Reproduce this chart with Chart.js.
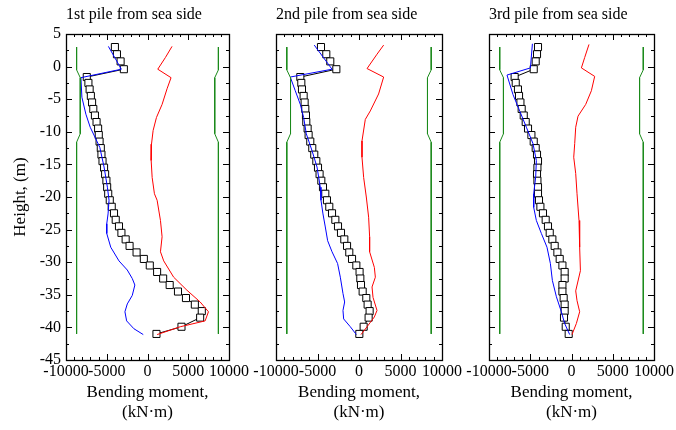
<!DOCTYPE html>
<html lang="en">
<head>
<meta charset="UTF-8">
<title>Bending moment along piles</title>
<script src="https://cdn.jsdelivr.net/npm/chart.js@4"></script>
<style>
  body { margin: 0; background: #fff; }
  #wrap { position: relative; width: 676px; height: 430px; overflow: hidden; }
  canvas { position: absolute; top: 0; }
</style>
</head>
<body>
<div id="wrap">
  <canvas id="pile1" width="262" height="430" style="left:0"></canvas>
  <canvas id="pile2" width="230" height="430" style="left:240px"></canvas>
  <canvas id="pile3" width="221" height="430" style="left:455px"></canvas>
</div>
<script>
// depths (m) of the recorded points, shared by all three piles
const recordDepth = [3, 1.9, 0.8, -0.4, -1.6, -2.5, -3.5, -4.5, -5.5, -6.5, -7.5, -8.5, -9.5, -10.5,
  -11.5, -12.5, -13.5, -14.5, -15.5, -16.5, -17.5, -18.5, -19.5, -20.5, -21.5, -22.5, -23.5, -24.5,
  -25.5, -26.5, -27.5, -28.5, -29.5, -30.5, -31.5, -32.5, -33.5, -34.5, -35.5, -36.5, -37.5, -38.5,
  -39.9, -41];

const pile1Record = [-4000, -3750, -3300, -2900, -7450, -7250, -7100, -6950, -6800, -6650, -6450, -6250,
  -6060, -5980, -5880, -5730, -5650, -5520, -5330, -5200, -5040, -4950, -4820, -4630, -4390, -4110,
  -3900, -3500, -3200, -2680, -2200, -1340, -450, 280, 1180, 1920, 2720, 3740, 4720, 5810, 6660, 6460,
  4170, 1100];
const pile2Record = [-4580, -3940, -3460, -2730, -7070, -6950, -6870, -6670, -6550, -6470, -6390, -6350,
  -6190, -6070, -5870, -5630, -5390, -5140, -4940, -4750, -4540, -4340, -4060, -3860, -3580, -3250,
  -2850, -2530, -2170, -1770, -1440, -1170, -840, -320, 70, 160, 240, 440, 880, 1040, 1280, 1160,
  560, 40];
const pile3Record = [-4060, -4180, -4340, -4580, -6890, -6760, -6490, -6360, -6190, -6040, -5790, -5550,
  -5270, -4860, -4580, -4340, -4180, -4060, -4130, -4180, -4130, -4060, -4060, -3940, -3770, -3460,
  -3130, -2850, -2640, -2320, -2040, -1710, -1430, -1100, -830, -830, -1100, -1100, -950, -830, -830,
  -910, -700, -340];

// maximum envelope (red)
const pile1MaxY = [3.1, 1.4, -0.4, -1.7, -3.4, -5.8, -7.8, -9.8, -11.9, -14.4, -17, -19.5, -20.5, -23.6,
  -26.1, -28.4, -29.8, -32.3, -34.3, -36.1, -37.6, -39, -39.9, -41.1];
const pile1MaxX = [3010, 2200, 1260, 2890, 2400, 1790, 1100, 690, 490, 450, 570, 850, 1180, 1590,
  1790, 1590, 1990, 3210, 4840, 6460, 7480, 7070, 4020, 1180];
const pile2MaxY = [3.3, 1.9, -0.3, -1.6, -4.2, -6.8, -8.1, -11.4, -13.9, -17, -20, -23.1, -26.1, -28.4,
  -30.8, -32.3, -33.8, -35.4, -37.4, -38.4, -39.9, -41.1];
const pile2MaxX = [2970, 2170, 970, 2970, 2360, 1360, 760, 360, 360, 560, 880, 1160, 1280, 1280,
  1850, 1970, 1570, 1690, 2170, 1850, 970, 240];
const pile3MaxY = [3.4, 1.4, -0.2, -1.5, -3.7, -5.8, -7.6, -9.3, -11.8, -13.9, -16.4, -19.5, -23.6, -27.7,
  -31.3, -34.4, -35.9, -37.6, -39.4, -41.1];
const pile3MaxX = [2120, 1600, 1200, 2810, 2410, 1720, 790, 510, 390, 270, 510, 670, 910, 990,
  1080, 510, 670, 990, 590, 60];

// minimum envelope (blue)
const pile1MinY = [3.1, -0.4, -1.7, -4.7, -7.3, -9.3, -11.1, -12.4, -15.4, -18.5, -20.5, -22.6, -24.1,
  -25.6, -27.7, -29.8, -31.2, -32.5, -33.5, -35.1, -36.4, -37.6, -39, -40.2, -41.1];
const pile1MinX = [-4800, -3210, -8170, -8050, -7560, -7030, -6340, -5850, -5330, -4920, -4720, -4840,
  -5000, -5000, -4510, -3500, -2480, -1870, -1550, -1870, -2480, -2770, -2560, -1670, -520];
const pile2MinY = [3.3, -0.4, -1.6, -3.7, -5.8, -7.8, -10.3, -12.9, -15.4, -18.5, -20.5, -22.6, -24.6,
  -26.7, -28.4, -30.2, -32.3, -34.8, -36.1, -37.4, -38.7, -39.9, -41.1];
const pile2MinX = [-5390, -3250, -8280, -7680, -7070, -6670, -6350, -5660, -5060, -4660, -4580, -4340,
  -4060, -3780, -3250, -2580, -2250, -1930, -1730, -1930, -1850, -1050, -320];
const pile3MinY = [3.5, -0.2, -1.3, -4.3, -6.8, -9.3, -11.8, -14.4, -16.9, -19.5, -21.6, -23.6, -25.6,
  -27.7, -30.2, -32.8, -35.3, -37.6, -39.4, -41.1];
const pile3MinX = [-4740, -4980, -7820, -7090, -6280, -5470, -4670, -4260, -4340, -4580, -4580, -4260,
  -3650, -2970, -2560, -2320, -1830, -1230, -830, -220];

// allowable moment limits (green)
const limitY = [3, -0.5, -1.7, -10.3, -11.6, -41];
const limitNeg = [-8700, -8700, -8250, -8250, -8700, -8700];
const limitPos = [8700, 8700, 8250, 8250, 8700, 8700];

const pileTitles = ['1st pile from sea side', '2nd pile from sea side', '3rd pile from sea side'];
const momentTicks = [-10000, -5000, 0, 5000, 10000];

Chart.defaults.font.family = '"Liberation Serif", "Times New Roman", serif';
Chart.defaults.color = '#000';

const pts = (xs, ys) => xs.map((x, i) => ({ x: x, y: ys[i] }));

// box frame with inward major/minor ticks on all four sides
const frameTicks = {
  id: 'frameTicks',
  afterDraw(chart) {
    const { ctx, chartArea: a, scales: { x, y } } = chart;
    ctx.save();
    ctx.strokeStyle = '#000';
    ctx.lineWidth = 1;
    ctx.beginPath();
    for (let v = -10000; v <= 10000; v += 1000) {
      const px = Math.round(x.getPixelForValue(v)) + 0.5;
      const len = v % 5000 === 0 ? 6 : 3;
      ctx.moveTo(px, a.top); ctx.lineTo(px, a.top + len);
      ctx.moveTo(px, a.bottom); ctx.lineTo(px, a.bottom - len);
    }
    for (let v = -45; v <= 5; v += 2.5) {
      const py = Math.round(y.getPixelForValue(v)) + 0.5;
      const len = v % 5 === 0 ? 6 : 3;
      ctx.moveTo(a.left, py); ctx.lineTo(a.left + len, py);
      ctx.moveTo(a.right, py); ctx.lineTo(a.right - len, py);
    }
    ctx.stroke();
    ctx.lineWidth = 1.3;
    ctx.strokeRect(Math.round(a.left) + 0.5, Math.round(a.top) + 0.5,
      Math.round(a.right - a.left), Math.round(a.bottom - a.top));
    ctx.restore();
  }
};

function makePile(id, title, record, maxX, maxY, minX, minY, showY, padLeft, padRight) {
  const line = (data, color) => ({
    data: data, showLine: true, borderColor: color, borderWidth: 1,
    pointRadius: 0, fill: false, tension: 0
  });
  new Chart(document.getElementById(id), {
    type: 'scatter',
    data: {
      datasets: [
        line(pts(limitNeg, limitY), '#1b8a1b'),
        line(pts(limitPos, limitY), '#1b8a1b'),
        line(pts(maxX, maxY), '#ff0000'),
        line(pts(minX, minY), '#0000ff'),
        {
          data: pts(record, recordDepth), showLine: true,
          borderColor: '#000', borderWidth: 1,
          pointStyle: 'rect', pointRadius: 5, pointBorderWidth: 1,
          pointBackgroundColor: '#fff', pointBorderColor: '#000'
        }
      ]
    },
    options: {
      responsive: false,
      animation: false,
      layout: { padding: { left: padLeft, right: padRight, top: 0, bottom: 0 } },
      plugins: {
        legend: { display: false },
        tooltip: { enabled: false },
        title: {
          display: true, text: title, align: 'start', fullSize: false,
          font: { size: 16, weight: 'normal', lineHeight: 1.2 },
          padding: { top: 5, bottom: 9.8 }
        }
      },
      scales: {
        x: {
          type: 'linear', min: -10000, max: 10000,
          afterBuildTicks: s => { s.ticks = momentTicks.map(v => ({ value: v })); },
          grid: { display: false, drawTicks: false },
          border: { display: false },
          ticks: {
            autoSkip: false, maxRotation: 0, minRotation: 0, padding: 2,
            font: { size: 16 }, callback: v => String(v)
          },
          title: {
            display: true, text: ['Bending moment,', '(kN\u00b7m)'],
            font: { size: 17, lineHeight: 1.2 }, padding: { top: 0, bottom: 7 }
          },
          afterFit: s => { s.height = 70; }
        },
        y: {
          type: 'linear', min: -45, max: 5, display: showY,
          grid: { display: false, drawTicks: false },
          border: { display: false },
          ticks: { stepSize: 5, padding: 5, font: { size: 16 } },
          title: {
            display: true, text: 'Height, (m)',
            font: { size: 17, lineHeight: 1.2 }, padding: { top: 10, bottom: 0 }
          },
          afterFit: s => { s.width = showY ? 66 : 0; }
        }
      }
    },
    plugins: [frameTicks]
  });
}

makePile('pile1', pileTitles[0], pile1Record, pile1MaxX, pile1MaxY, pile1MinX, pile1MinY, true, 0, 33);
makePile('pile2', pileTitles[1], pile2Record, pile2MaxX, pile2MaxY, pile2MinX, pile2MinY, false, 36, 28);
makePile('pile3', pileTitles[2], pile3Record, pile3MaxX, pile3MaxY, pile3MinX, pile3MinY, false, 34, 22);
</script>
</body>
</html>
